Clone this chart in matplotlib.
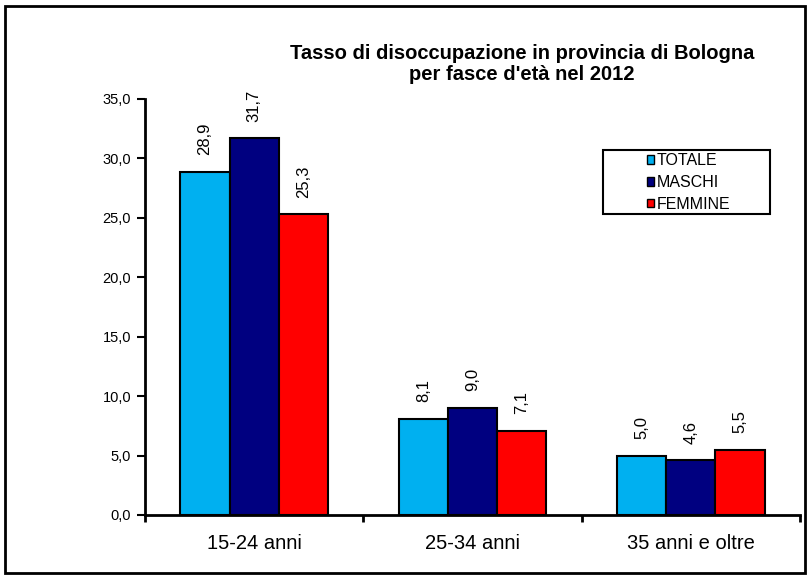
import matplotlib.pyplot as plt
import numpy as np
from matplotlib.patches import Rectangle

categories = ["15-24 anni", "25-34 anni", "35 anni e oltre"]
series_names = ["TOTALE", "MASCHI", "FEMMINE"]
totale = [28.9, 8.1, 5.0]
maschi = [31.7, 9.0, 4.6]
femmine = [25.3, 7.1, 5.5]
yticks = [0, 5, 10, 15, 20, 25, 30, 35]

colors = ["#00B0F0", "#000080", "#FF0000"]
plt.rcParams['font.family'] = ['Liberation Sans', 'DejaVu Sans']

fig = plt.figure(figsize=(8.11, 5.78), dpi=100)
ax = fig.add_axes([145 / 811, 1 - 515 / 578, 655 / 811, 416 / 578])

x = np.arange(len(categories))
w = 0.225
for i, vals in enumerate([totale, maschi, femmine]):
    pos = x + (i - 1) * w
    ax.bar(pos, vals, w, color=colors[i], edgecolor="black", linewidth=1.5,
           label=series_names[i])
    for p, v in zip(pos, vals):
        ax.annotate(f"{v:.1f}".replace(".", ","), (p, v), xytext=(0, 12),
                    textcoords="offset points", rotation=90, ha="center",
                    va="bottom", fontsize=12)

ax.set_xlim(-0.5, 2.5)
ax.set_ylim(0, 35)
ax.set_yticks(yticks)
ax.set_yticklabels([f"{t:.1f}".replace(".", ",") for t in yticks], fontsize=10.5)
ax.set_xticks(x)
ax.set_xticklabels(categories, fontsize=14.5)
ax.tick_params(axis="x", which="major", length=0, pad=14)
ax.set_xticks([-0.5, 0.5, 1.5, 2.5], minor=True)
ax.tick_params(axis="x", which="minor", length=5, width=2, direction="out")
ax.tick_params(axis="y", length=6, width=1.5, direction="out", pad=4)
for s in ["top", "right"]:
    ax.spines[s].set_visible(False)
for s in ["left", "bottom"]:
    ax.spines[s].set_linewidth(2)

# legend box drawn separately so the entries sit inside a wider frame
fig.patches.append(Rectangle((603 / 811, 1 - 214 / 578), 167 / 811, 64 / 578,
                             transform=fig.transFigure, fill=False,
                             edgecolor="black", linewidth=1.5))
leg = ax.legend(loc="upper left", bbox_to_anchor=(644 / 811, 1 - 150 / 578),
                bbox_transform=fig.transFigure, frameon=False,
                fontsize=11.5, handlelength=0.45, handleheight=0.45,
                handletextpad=0.15, borderpad=0.2, labelspacing=0.42,
                borderaxespad=0)
for h in leg.legend_handles:
    h.set_linewidth(1)

fig.text(522 / 811, 1 - 64 / 578,
         "Tasso di disoccupazione in provincia di Bologna\nper fasce d'età nel 2012",
         ha="center", va="center", fontsize=14.5, fontweight="bold",
         linespacing=1.15)

fig.patches.append(Rectangle((5 / 811, 5 / 578), 800 / 811, 567 / 578,
                             transform=fig.transFigure, fill=False,
                             edgecolor="black", linewidth=2))

fig.savefig("out.png", dpi=100)
